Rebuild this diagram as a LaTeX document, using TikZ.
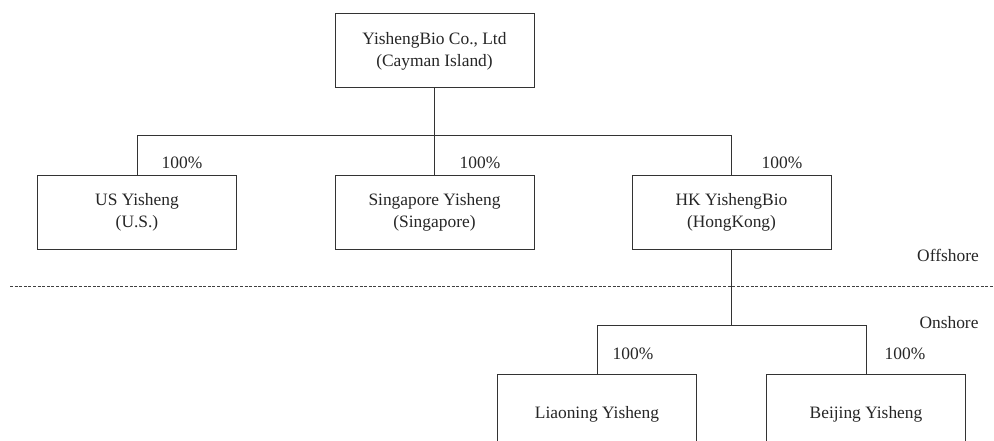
\documentclass[tikz,border=0pt]{standalone}
\usepackage{fontspec}
\setmainfont{Liberation Serif}
\begin{document}
\begin{tikzpicture}[x=1pt,y=-1pt,
  every node/.style={font=\fontsize{17.4}{22}\selectfont, text=black!85},
  entity/.style={draw=black!80, line width=1pt, minimum width=199pt, minimum height=74pt, align=center, inner sep=0pt},
  link/.style={draw=black!80, line width=1pt},
  divider/.style={draw=black!75, line width=0.9pt, dash pattern=on 3pt off 1.6pt},
  lbl/.style={inner sep=0pt}]
\useasboundingbox (0,0) rectangle (994,441);
\clip (0,0) rectangle (994,441);
\fill[white] (0,0) rectangle (994,441);

\node[entity] (top) at (434.5,51) {YishengBio Co., Ltd\\(Cayman Island)};
\node[entity, minimum height=73pt] (us) at (137,212.5) {US Yisheng\\(U.S.)};
\node[entity, minimum height=73pt] (sg) at (434.5,212.5) {Singapore Yisheng\\(Singapore)};
\node[entity, minimum height=73pt] (hk) at (731.5,212.5) {HK YishengBio\\(HongKong)};
\node[entity, minimum height=80pt] (li) at (597,414) {Liaoning Yisheng};
\node[entity, minimum height=80pt] (bj) at (866,414) {Beijing Yisheng};

\coordinate (bus1) at (0,136);
\coordinate (bus2) at (0,325);

\draw[link] (top.south) -- (top.south |- bus1) -| (us.north);
\draw[link] (top.south |- bus1) -- (sg.north);
\draw[link] (top.south |- bus1) -| (hk.north);
\draw[link] (hk.south) -- (hk.south |- bus2) -| (li.north);
\draw[link] (hk.south |- bus2) -| (bj.north);

\node[lbl] (p1) at (182,163) {100\%};
\node[lbl] (p2) at (480,163) {100\%};
\node[lbl] (p3) at (782,163) {100\%};
\node[lbl] (p4) at (633,354) {100\%};
\node[lbl] (p5) at (905,354) {100\%};

\node[lbl] (off) at (948,255) {Offshore};
\node[lbl] (on) at (949,323) {Onshore};

\coordinate (dl) at (10,286);
\coordinate (dr) at (994,286);
\draw[divider] (dl) -- (dr);
\end{tikzpicture}
\end{document}
